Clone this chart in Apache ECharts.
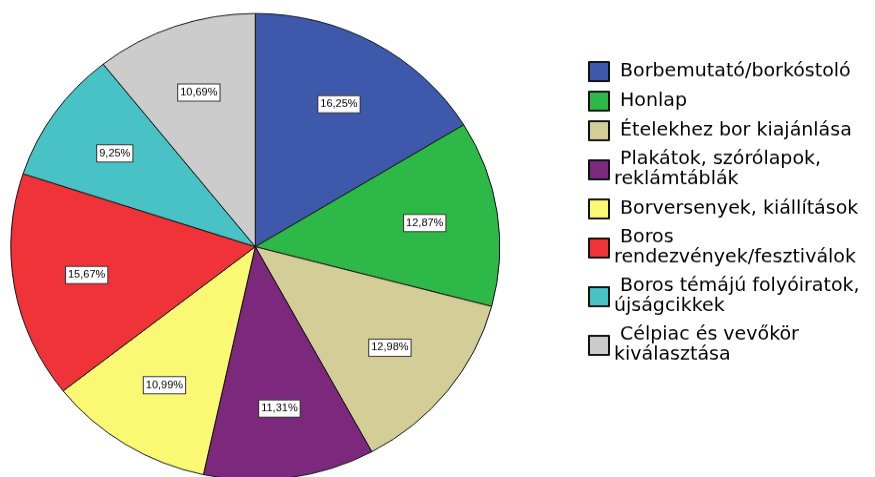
<!DOCTYPE html>
<html>
<head>
<meta charset="utf-8">
<script src="https://cdn.jsdelivr.net/npm/echarts@6/dist/echarts.min.js"></script>
<style>
  html, body { margin: 0; padding: 0; background: #ffffff; overflow: hidden; }
  /* the chart is laid out on a taller canvas and flattened vertically,
     which turns the round pie into the slightly wide ellipse */
  #chart { width: 875px; height: 500px; transform: scaleY(0.954); transform-origin: 0 0; }
</style>
</head>
<body>
<div id="chart"></div>
<script>
// Categories (legend text, with the line breaks used in the legend)
var categories = [
  'Borbemutató/borkóstoló',
  'Honlap',
  'Ételekhez bor kiajánlása',
  'Plakátok, szórólapok,\nreklámtáblák',
  'Borversenyek, kiállítások',
  'Boros\nrendezvények/fesztiválok',
  'Boros témájú folyóiratok,\nújságcikkek',
  'Célpiac és vevőkör\nkiválasztása'
];

// Share of each category, in percent
var shares = [16.25, 12.87, 12.98, 11.31, 10.99, 15.67, 9.25, 10.69];

// Slice colours, one per category
var sliceColors = ['#3E58AC', '#2EB848', '#D3CE97', '#7C287D', '#FBF873', '#EF3338', '#48C2C5', '#CCCCCC'];

var pieData = categories.map(function (name, i) {
  return { name: name, value: shares[i], itemStyle: { color: sliceColors[i] } };
});

var labelData = categories.map(function (name, i) {
  return { name: name, value: shares[i] };
});

function pct(p) {
  return p.value.toFixed(2).replace('.', ',') + '%';
}

var chart = echarts.init(document.getElementById('chart'), null, { renderer: 'canvas' });

chart.setOption({
  animation: false,
  color: sliceColors,
  legend: {
    orient: 'vertical',
    left: 588,
    top: 64,
    padding: 0,
    itemWidth: 20,
    itemHeight: 20,
    itemGap: 9,
    icon: 'rect',
    selectedMode: false,
    data: categories,
    formatter: function (name) { return ' ' + name; },
    textStyle: {
      fontFamily: 'DejaVu Sans',
      fontSize: 19,
      lineHeight: 21,
      color: '#000000'
    }
  },
  series: [
    {
      // the pie itself
      type: 'pie',
      center: [255.3, 258.6],
      radius: 244.5,
      startAngle: 90,
      clockwise: true,
      silent: true,
      label: { show: false },
      labelLine: { show: false },
      itemStyle: { borderColor: '#111111', borderWidth: 1 },
      data: pieData
    },
    {
      // transparent ring that carries the percentage labels further out
      type: 'pie',
      center: [255.3, 258.6],
      radius: [92, 244.5],
      startAngle: 90,
      clockwise: true,
      silent: true,
      itemStyle: { color: 'rgba(0,0,0,0)', borderWidth: 0 },
      labelLine: { show: false },
      label: {
        show: true,
        position: 'inside',
        formatter: pct,
        fontFamily: 'Liberation Sans',
        fontSize: 11,
        lineHeight: 12,
        color: '#000000',
        backgroundColor: '#ffffff',
        borderColor: '#333333',
        borderWidth: 1,
        padding: [3, 2, 2, 2]
      },
      data: labelData
    }
  ]
});
</script>
</body>
</html>
